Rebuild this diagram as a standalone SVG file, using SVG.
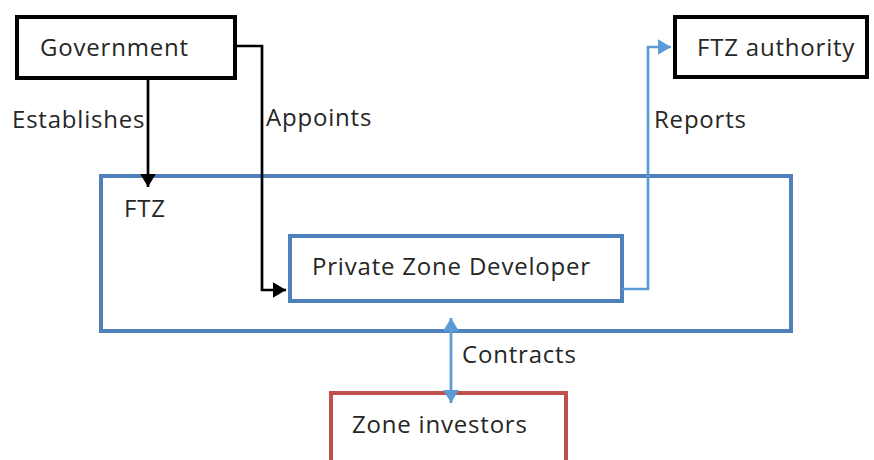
<svg xmlns="http://www.w3.org/2000/svg" width="874" height="460" viewBox="0 0 874 460">
<defs>
<style>
text{font-family:"Open Sans","Liberation Sans",sans-serif;font-size:24px;letter-spacing:0.8px;fill:#262626}
.blk{fill:#fff;stroke:#000;stroke-width:4}
.blue{fill:none;stroke:#4F81BD;stroke-width:4}
.red{fill:#fff;stroke:#C0504D;stroke-width:4}
.cb{fill:none;stroke:#000;stroke-width:2.7}
.cl{fill:none;stroke:#5B9BD5;stroke-width:2.7}
</style>
<marker id="ab" viewBox="0 0 10 12" refX="10" refY="6" markerWidth="5" markerHeight="6" orient="auto" markerUnits="strokeWidth"><path d="M0,0L10,6L0,12z" fill="#000"/></marker>
<marker id="al" viewBox="0 0 10 12" refX="10" refY="6" markerWidth="5" markerHeight="6" orient="auto-start-reverse" markerUnits="strokeWidth"><path d="M0,0L10,6L0,12z" fill="#5B9BD5"/></marker>
</defs>
<g id="ftz"><rect class="blue" x="101" y="176" width="690" height="155"/><text x="124" y="217">FTZ</text></g>
<g id="government"><rect class="blk" x="17" y="17" width="218" height="61"/><text x="40" y="56">Government</text></g>
<g id="ftz-authority"><rect class="blk" x="675" y="17" width="192" height="60"/><text x="697" y="56">FTZ authority</text></g>
<g id="developer"><rect class="blue" x="290" y="236" width="332" height="65"/><text x="312" y="275">Private Zone Developer</text></g>
<g id="investors"><rect class="red" x="331" y="393" width="235" height="80"/><text x="352" y="433">Zone investors</text></g>
<g id="connectors">
<path class="cb" d="M148,78V187" marker-end="url(#ab)"/>
<path class="cb" d="M235,46H262V290H286" marker-end="url(#ab)"/>
<path class="cl" d="M622,289H648V47H671" marker-end="url(#al)"/>
<path class="cl" d="M451,318V403" marker-start="url(#al)" marker-end="url(#al)"/>
</g>
<g id="labels">
<text x="12" y="128">Establishes</text>
<text x="266" y="126">Appoints</text>
<text x="654" y="128">Reports</text>
<text x="462" y="363">Contracts</text>
</g>
</svg>
